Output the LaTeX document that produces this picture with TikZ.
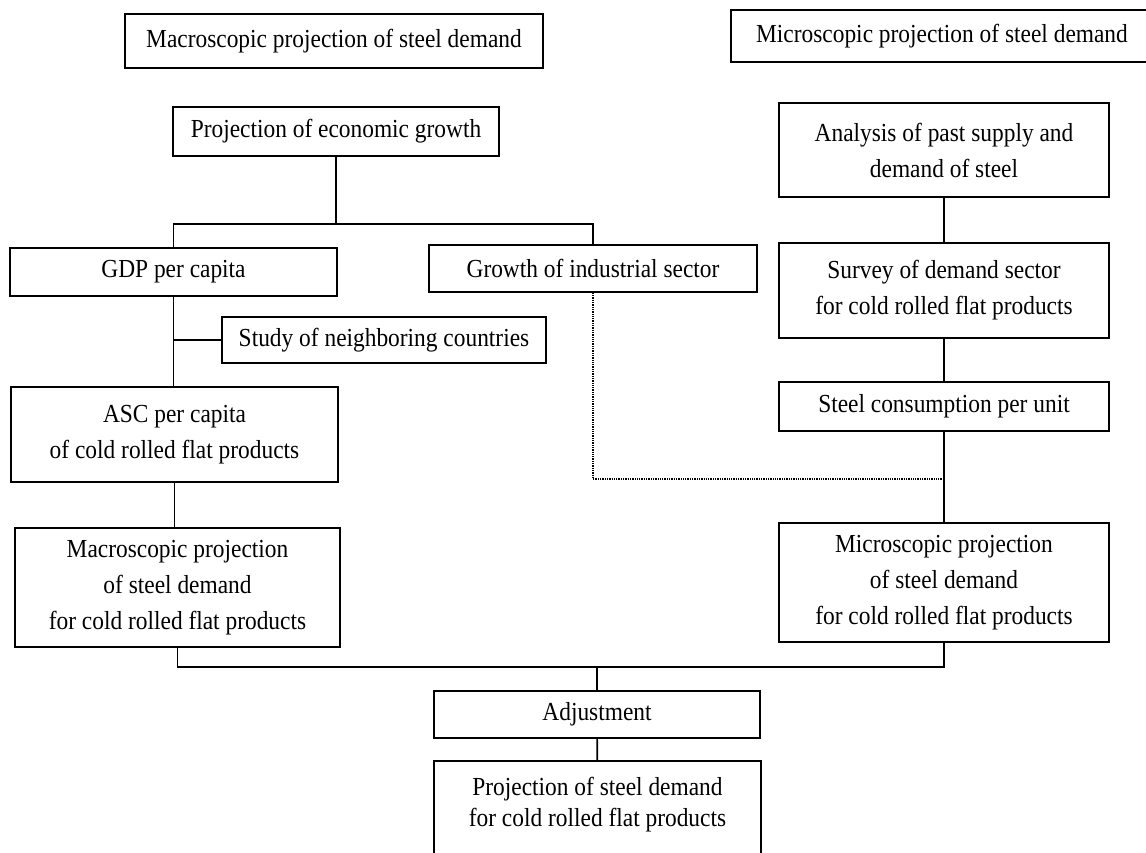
\documentclass[tikz,border=0pt]{standalone}
\usepackage{fontspec}
\setmainfont{Liberation Serif}[FakeStretch=0.9]
\begin{document}
\begin{tikzpicture}[x=1pt,y=-1pt,
  box/.style={draw, line width=1.7pt, align=center, inner sep=0pt,
    font=\fontsize{26}{36}\selectfont},
  link/.style={line width=1.7pt}]
\useasboundingbox (0,0) rectangle (1146,853);

% headings
\node[box, minimum width=418pt, minimum height=54pt] (macrohead) at (334,41) {Macroscopic projection of steel demand};
\node[box, minimum width=422pt, minimum height=52pt] (microhead) at (942,36) {Microscopic projection of steel demand};

% macroscopic side
\node[box, minimum width=326pt, minimum height=49pt] (econ) at (336,131.5) {Projection of economic growth};
\node[box, minimum width=327pt, minimum height=48pt] (gdp) at (173.5,272) {GDP per capita};
\node[box, minimum width=328pt, minimum height=47pt] (growth) at (593,268.5) {Growth of industrial sector};
\node[box, minimum width=324pt, minimum height=46pt] (study) at (384,340) {Study of neighboring countries};
\node[box, minimum width=327pt, minimum height=95pt] (asc) at (174.5,434.5) {ASC per capita\\of cold rolled flat products};
\node[box, minimum width=325pt, minimum height=119pt] (macro) at (177.5,587.5) {Macroscopic projection\\of steel demand\\for cold rolled flat products};

% microscopic side
\node[box, minimum width=330pt, minimum height=94pt] (analysis) at (944,150) {Analysis of past supply and\\demand of steel};
\node[box, minimum width=330pt, minimum height=95pt] (survey) at (944,290.5) {Survey of demand sector\\for cold rolled flat products};
\node[box, minimum width=330pt, minimum height=49pt] (steel) at (944,406.5) {Steel consumption per unit};
\node[box, minimum width=330pt, minimum height=119pt] (micro) at (944,582.5) {Microscopic projection\\of steel demand\\for cold rolled flat products};

% result
\node[box, minimum width=326pt, minimum height=47pt] (adjust) at (597,714.5) {Adjustment};
\node[box, draw=none, minimum width=325pt, minimum height=85pt, font=\fontsize{26}{31}\selectfont] (final) at (597.5,804.5) {Projection of steel demand\\for cold rolled flat products};
\draw[link] ([yshift=-12pt]final.south west) |- (final.north east) -- ([yshift=-12pt]final.south east);

\coordinate (split) at (336,224);
\coordinate (tap) at (944,479);
\coordinate (merge) at (597,667);

\draw[link] (econ.south) -- (split);
\draw[link] (split) -| (gdp.north);
\draw[link] (split) -| (growth.north);
\draw[link] (gdp.south) -- (gdp.south |- asc.north);
\draw[link] (study.west) -- (study.west -| gdp.south);
\draw[link] (asc.south) -- (asc.south |- macro.north);

\draw[link] (analysis) -- (survey);
\draw[link] (survey) -- (steel);
\draw[link] (steel) -- (micro);
\draw[line width=1.3pt, densely dotted] (growth.south) |- (tap);

\draw[link] (macro.south) |- (merge) -| (micro.south);
\draw[link] (merge) -- (adjust.north);
\draw[link] (adjust) -- (final);
\end{tikzpicture}
\end{document}
